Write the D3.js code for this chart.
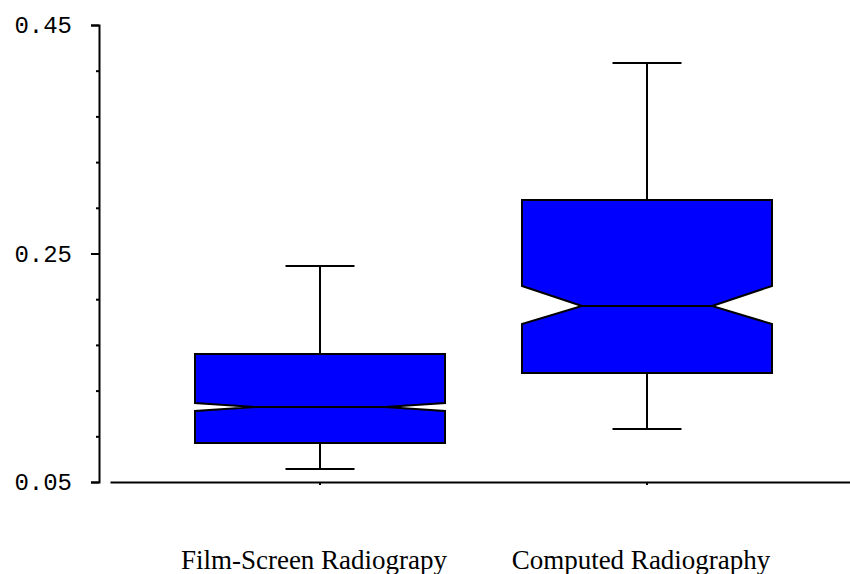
<!DOCTYPE html>
<html>
<head>
<meta charset="utf-8">
<script src="https://cdn.jsdelivr.net/npm/d3@7/dist/d3.min.js"></script>
<style>
  html, body { margin: 0; padding: 0; background: #fff; }
  svg { display: block; }
</style>
</head>
<body>
<svg id="chart" width="850" height="574"></svg>
<script>
// Notched box plot: two groups, five-number summaries plus notch limits.
const categories = ["Film-Screen Radiograpy", "Computed Radiography"];
const whiskerLow  = [0.0614, 0.0964];
const q1          = [0.0841, 0.1454];
const notchLow    = [0.1121, 0.1883];
const median      = [0.1156, 0.2040];
const notchHigh   = [0.1191, 0.2216];
const q3          = [0.1620, 0.2968];
const whiskerHigh = [0.2390, 0.4167];

const yMajorTicks = [0.05, 0.25, 0.45];
const yMinorTicks = [0.09, 0.13, 0.17, 0.21, 0.29, 0.33, 0.37, 0.41];

const boxes = categories.map((c, i) => ({
  cat: c, lo: whiskerLow[i], q1: q1[i], nLo: notchLow[i], med: median[i],
  nHi: notchHigh[i], q3: q3[i], hi: whiskerHigh[i]
}));

const svg = d3.select("#chart");

const y = d3.scaleLinear().domain([0.05, 0.45]).range([482, 25]);
const x = d3.scaleBand().domain(categories).range([110, 857])
  .paddingInner(0.2355).paddingOuter(0.26);

const bw = x.bandwidth();
const notchInset = bw * 0.24;
const capHalf = 34.5;

// y axis: major ticks with labels, minor ticks without
const yAxis = svg.append("g")
  .attr("transform", "translate(99,0)")
  .call(d3.axisLeft(y).tickValues(yMajorTicks).tickFormat(d3.format(".2f"))
    .tickSizeInner(8).tickSizeOuter(8).tickPadding(19));
yAxis.select(".domain").attr("stroke", "#000").attr("stroke-width", 2);
yAxis.selectAll(".tick line").attr("stroke", "#000").attr("stroke-width", 2);
yAxis.selectAll(".tick text")
  .attr("font-family", "'Liberation Mono', 'DejaVu Sans Mono', monospace")
  .attr("font-size", 24).attr("fill", "#000");

const yMinor = svg.append("g")
  .attr("transform", "translate(99,0)")
  .call(d3.axisLeft(y).tickValues(yMinorTicks).tickFormat("").tickSize(3));
yMinor.select(".domain").remove();
yMinor.selectAll(".tick line").attr("stroke", "#000").attr("stroke-width", 2);

// x axis: baseline with small ticks under each group
const xAxis = svg.append("g")
  .attr("transform", `translate(0,${y(0.05)})`)
  .call(d3.axisBottom(x).tickSizeInner(3).tickSizeOuter(0).tickFormat(""));
xAxis.select(".domain").attr("stroke", "#000").attr("stroke-width", 2);
xAxis.selectAll(".tick line").attr("stroke", "#000").attr("stroke-width", 2);

// group labels
svg.append("g").selectAll("text")
  .data(categories)
  .join("text")
  .attr("x", d => x(d) + bw / 2 - 6)
  .attr("y", 569)
  .attr("text-anchor", "middle")
  .attr("font-family", "'Liberation Serif', 'Times New Roman', serif")
  .attr("font-size", 27)
  .attr("fill", "#000")
  .text(d => d);

// whiskers and caps
const g = svg.append("g");
boxes.forEach(b => {
  const cx = x(b.cat) + bw / 2;
  const grp = g.append("g");
  grp.append("line")
    .attr("x1", cx).attr("x2", cx).attr("y1", y(b.hi)).attr("y2", y(b.q3))
    .attr("stroke", "#000").attr("stroke-width", 2);
  grp.append("line")
    .attr("x1", cx).attr("x2", cx).attr("y1", y(b.q1)).attr("y2", y(b.lo))
    .attr("stroke", "#000").attr("stroke-width", 2);
  [b.hi, b.lo].forEach(v => {
    grp.append("line")
      .attr("x1", cx - capHalf).attr("x2", cx + capHalf)
      .attr("y1", y(v)).attr("y2", y(v))
      .attr("stroke", "#000").attr("stroke-width", 2);
  });

  const x0 = x(b.cat), x1 = x(b.cat) + bw;
  const p = d3.path();
  p.moveTo(x0, y(b.q3));
  p.lineTo(x1, y(b.q3));
  p.lineTo(x1, y(b.nHi));
  p.lineTo(x1 - notchInset, y(b.med));
  p.lineTo(x1, y(b.nLo));
  p.lineTo(x1, y(b.q1));
  p.lineTo(x0, y(b.q1));
  p.lineTo(x0, y(b.nLo));
  p.lineTo(x0 + notchInset, y(b.med));
  p.lineTo(x0, y(b.nHi));
  p.closePath();
  grp.append("path")
    .attr("d", p.toString())
    .attr("fill", "#0000ff")
    .attr("stroke", "#000")
    .attr("stroke-width", 2)
    .attr("stroke-linejoin", "miter");
  grp.append("line")
    .attr("x1", x0 + notchInset).attr("x2", x1 - notchInset)
    .attr("y1", y(b.med)).attr("y2", y(b.med))
    .attr("stroke", "#000").attr("stroke-width", 2);
});
</script>
</body>
</html>
